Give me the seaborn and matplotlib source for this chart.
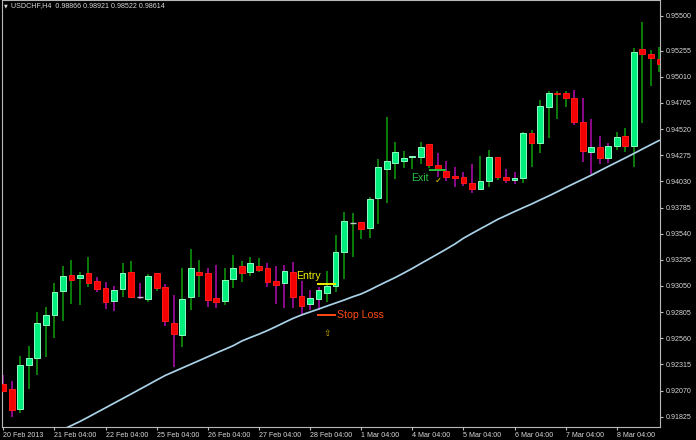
import numpy as np
import matplotlib
matplotlib.use("Agg")
import matplotlib.pyplot as plt
import seaborn as sns

# USDCHF H4 bars, 20 Feb 2013 04:00 .. 8 Mar 2013
opens = [0.92131, 0.92084, 0.91897, 0.92309, 0.92378, 0.92687, 0.92778, 0.93003, 0.93153, 0.93120,
         0.93174, 0.93097, 0.93034, 0.92912, 0.93019, 0.93184, 0.92951, 0.92928, 0.93169, 0.93043,
         0.92706, 0.92590, 0.92947, 0.93184, 0.93174, 0.92940, 0.92909, 0.93112, 0.93237, 0.93184,
         0.93240, 0.93216, 0.93097, 0.93081, 0.93184, 0.92956, 0.92881, 0.92925, 0.92987, 0.93052,
         0.93365, 0.93643, 0.93652, 0.93590, 0.93872, 0.94146, 0.94205, 0.94224, 0.94261, 0.94261,
         0.94378, 0.94184, 0.94130, 0.94081, 0.94068, 0.94018, 0.93959, 0.94034, 0.94261, 0.94074,
         0.94046, 0.94059, 0.94481, 0.94387, 0.94730, 0.94861, 0.94856, 0.94809, 0.94584, 0.94308,
         0.94355, 0.94252, 0.94365, 0.94458, 0.94365, 0.95271, 0.95221, 0.95174]
highs = [0.92216, 0.92159, 0.92394, 0.92490, 0.92803, 0.92856, 0.93078, 0.93237, 0.93293, 0.93181,
         0.93324, 0.93131, 0.93084, 0.93052, 0.93262, 0.93284, 0.93075, 0.93159, 0.93169, 0.93068,
         0.92965, 0.93216, 0.93396, 0.93293, 0.93216, 0.93246, 0.93216, 0.93340, 0.93287, 0.93324,
         0.93309, 0.93262, 0.93240, 0.93246, 0.93277, 0.93097, 0.93012, 0.93043, 0.93193, 0.93528,
         0.93746, 0.93731, 0.93652, 0.93887, 0.94240, 0.94636, 0.94402, 0.94315, 0.94271, 0.94402,
         0.94378, 0.94299, 0.94224, 0.94162, 0.94121, 0.94193, 0.94268, 0.94324, 0.94261, 0.94146,
         0.94121, 0.94490, 0.94512, 0.94793, 0.94877, 0.94877, 0.94877, 0.94887, 0.94809, 0.94615,
         0.94458, 0.94387, 0.94496, 0.94533, 0.95277, 0.95521, 0.95261, 0.95287]
lows = [0.92066, 0.91825, 0.91862, 0.92084, 0.92216, 0.92381, 0.92565, 0.92724, 0.92881, 0.92872,
        0.93037, 0.92996, 0.92834, 0.92818, 0.92944, 0.92934, 0.92925, 0.92897, 0.93003, 0.92675,
        0.92293, 0.92478, 0.92825, 0.92949, 0.92853, 0.92841, 0.92872, 0.93028, 0.93084, 0.93143,
        0.93184, 0.93037, 0.92881, 0.92841, 0.92841, 0.92787, 0.92825, 0.92825, 0.92902, 0.92996,
        0.93112, 0.93324, 0.93487, 0.93497, 0.93631, 0.93830, 0.94052, 0.94153, 0.94143, 0.94193,
        0.94153, 0.94068, 0.94037, 0.93980, 0.93987, 0.93918, 0.93949, 0.93980, 0.94043, 0.94018,
        0.94006, 0.94012, 0.94168, 0.94293, 0.94434, 0.94612, 0.94724, 0.94559, 0.94215, 0.94097,
        0.94193, 0.94205, 0.94324, 0.94308, 0.94168, 0.94574, 0.94927, 0.95052]
closes = [0.92068, 0.91888, 0.92306, 0.92372, 0.92706, 0.92775, 0.92996, 0.93146, 0.93109, 0.93157,
          0.93081, 0.93022, 0.92902, 0.93012, 0.93174, 0.92944, 0.92951, 0.93146, 0.93034, 0.92722,
          0.92600, 0.92925, 0.93216, 0.93153, 0.92921, 0.92902, 0.93106, 0.93216, 0.93169, 0.93262,
          0.93200, 0.93084, 0.93059, 0.93193, 0.92944, 0.92862, 0.92934, 0.93012, 0.93052, 0.93365,
          0.93659, 0.93643, 0.93584, 0.93862, 0.94162, 0.94221, 0.94303, 0.94252, 0.94271, 0.94350,
          0.94184, 0.94137, 0.94068, 0.94065, 0.94012, 0.93959, 0.94037, 0.94256, 0.94074, 0.94043,
          0.94065, 0.94481, 0.94387, 0.94739, 0.94856, 0.94849, 0.94809, 0.94584, 0.94315, 0.94350,
          0.94252, 0.94365, 0.94449, 0.94365, 0.95240, 0.95224, 0.95189, 0.95127]
# wick colour of each bar: 'g' = up bar, 'p' = down bar
wick_dir = ["p", "p", "g", "g", "g", "g", "g", "g", "g", "g",
            "g", "p", "p", "p", "g", "g", "p", "g", "g", "p",
            "p", "g", "g", "g", "p", "p", "g", "g", "g", "g",
            "g", "p", "p", "p", "p", "p", "p", "p", "g", "g",
            "g", "g", "g", "g", "g", "g", "g", "g", "g", "g",
            "g", "p", "p", "p", "p", "p", "g", "g", "g", "p",
            "p", "g", "g", "g", "g", "g", "g", "p", "p", "p",
            "p", "p", "g", "g", "g", "g", "g", "g"]
# moving average
ma = [0.91428, 0.91466, 0.91503, 0.91541, 0.91583, 0.91625, 0.91663, 0.91705, 0.91742, 0.91780,
      0.91822, 0.91865, 0.91908, 0.91951, 0.91994, 0.92037, 0.92081, 0.92124, 0.92168, 0.92211,
      0.92246, 0.92281, 0.92316, 0.92351, 0.92386, 0.92422, 0.92456, 0.92491, 0.92534, 0.92567,
      0.92598, 0.92632, 0.92669, 0.92708, 0.92746, 0.92778, 0.92806, 0.92833, 0.92862, 0.92890,
      0.92918, 0.92948, 0.92975, 0.93012, 0.93052, 0.93091, 0.93129, 0.93171, 0.93214, 0.93260,
      0.93305, 0.93350, 0.93396, 0.93443, 0.93497, 0.93542, 0.93586, 0.93629, 0.93673, 0.93710,
      0.93747, 0.93783, 0.93818, 0.93856, 0.93893, 0.93932, 0.93972, 0.94011, 0.94049, 0.94088,
      0.94129, 0.94170, 0.94210, 0.94250, 0.94291, 0.94333, 0.94374, 0.94415]

x_tick_pos = [0, 6, 12, 18, 24, 30, 36, 42, 48, 54, 60, 66, 72]
x_tick_labels = ["20 Feb 2013", "21 Feb 04:00", "22 Feb 04:00", "25 Feb 04:00", "26 Feb 04:00",
                 "27 Feb 04:00", "28 Feb 04:00", "1 Mar 04:00", "4 Mar 04:00", "5 Mar 04:00",
                 "6 Mar 04:00", "7 Mar 04:00", "8 Mar 04:00"]
y_tick_pos = [0.95583, 0.95255, 0.95010, 0.94765, 0.94520, 0.94275, 0.94030, 0.93785, 0.93540,
              0.93295, 0.93050, 0.92805, 0.92560, 0.92315, 0.92070, 0.91825]
y_tick_labels = ["0.95500", "0.95255", "0.95010", "0.94765", "0.94520", "0.94275", "0.94030",
                 "0.93785", "0.93540", "0.93295", "0.93050", "0.92805", "0.92560", "0.92315",
                 "0.92070", "0.91825"]

entry_price = 0.93064
stop_price = 0.92778
exit_price = 0.94137

sns.set_theme(style="dark", rc={"axes.facecolor": "black", "figure.facecolor": "black"})
plt.rcParams["font.family"] = ["Liberation Sans", "DejaVu Sans"]

fig = plt.figure(figsize=(6.96, 4.40), dpi=100)
ax = fig.add_axes([2 / 696, 1 - 427 / 440, 658 / 696, 427 / 440])
ax.set_facecolor("black")

idx = np.arange(len(opens))
o = np.array(opens)
c = np.array(closes)

wick_cols = ["#0b7d0b" if d == "g" else "#8b0a8b" for d in wick_dir]
ax.vlines(idx, lows, highs, colors=wick_cols, lw=1.4, zorder=2)

up = c > o
down = c < o
flat = c == o
ax.bar(idx[up], (c - o)[up], bottom=o[up], width=0.68, color="#00ee7e",
       edgecolor="#8dffc2", linewidth=0.7, zorder=3)
ax.bar(idx[down], (o - c)[down], bottom=c[down], width=0.68, color="#f40000",
       edgecolor="#ff1a1a", linewidth=0.7, zorder=3)
ax.hlines(o[flat], idx[flat] - 0.34, idx[flat] + 0.34, colors="#c8c8c8", lw=1.0, zorder=3)

sns.lineplot(x=idx, y=ma, ax=ax, color="#a9d2e8", lw=1.25, zorder=4)

# trade levels
ax.hlines(entry_price, 36.8, 39.0, colors="#f0f000", lw=1.4, zorder=5)
ax.hlines(stop_price, 36.8, 39.0, colors="#ff4a14", lw=1.4, zorder=5)
ax.hlines(exit_price, 49.95, 52.0, colors="#22c23c", lw=1.4, zorder=5)
ax.text(34.4, 0.93143, "Entry", color="#f2f000", fontsize=7.6, va="center", ha="left")
ax.text(39.2, 0.92782, "Stop Loss", color="#ff4a14", fontsize=7.6, va="center", ha="left")
ax.text(47.9, 0.94062, "Exit", color="#26c040", fontsize=7.6, va="center", ha="left")
ax.text(51.0, 0.94040, "\u2713", color="#e8d800", fontsize=6, va="center", ha="center",
        family="DejaVu Sans")
ax.text(37.96, 0.92606, "\u21e7", color="#d0b000", fontsize=6.5, va="center", ha="center",
        family="DejaVu Sans")

ax.set_xlim(-0.15, 77.07)
ax.set_ylim(0.91728, 0.95730)
ax.set_xlabel("")
ax.set_ylabel("")
ax.grid(False)

ax.set_xticks(x_tick_pos)
ax.set_xticklabels(x_tick_labels, ha="left")
ax.yaxis.tick_right()
ax.set_yticks(y_tick_pos)
ax.set_yticklabels(y_tick_labels)
ax.tick_params(axis="x", direction="out", length=2, width=0.8, color="#c0c0c0",
               labelsize=5.1, labelcolor="#d8d8d8", pad=1.5, bottom=True)
ax.tick_params(axis="y", direction="out", length=2, width=0.8, color="#c0c0c0",
               labelsize=5.1, labelcolor="#d8d8d8", pad=2, right=True, left=False)
for s in ax.spines.values():
    s.set_color("#b8b8b8")
    s.set_linewidth(0.8)

fig.text(6 / 696, 1 - 6 / 440, "\u25bc", color="#d8d8d8", fontsize=3.5, va="center",
         ha="center", family="DejaVu Sans")
fig.text(11 / 696, 1 - 6 / 440, "USDCHF,H4  0.98866 0.98921 0.98522 0.98614",
         color="#d8d8d8", fontsize=5.1, va="center", ha="left")

fig.savefig("out.png", dpi=100, facecolor="black")
